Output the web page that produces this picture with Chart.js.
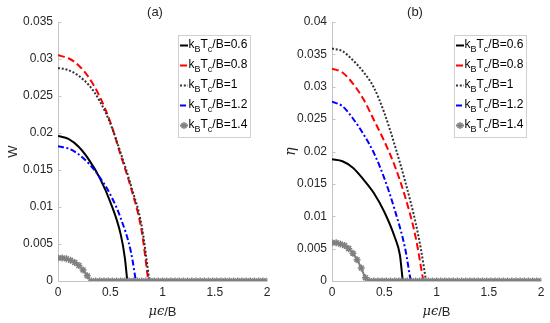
<!DOCTYPE html>
<html>
<head>
<meta charset="utf-8">
<script src="https://cdn.jsdelivr.net/npm/chart.js@4.4.1/dist/chart.umd.min.js"></script>
<style>
  body { margin: 0; background: #fff; width: 550px; height: 323px; overflow: hidden; }
  .painel { position: absolute; top: 0; width: 275px; height: 323px; }
</style>
</head>
<body>
<div class="painel" style="left:0"><canvas id="chartA"></canvas></div>
<div class="painel" style="left:275px"><canvas id="chartB"></canvas></div>
<script>
// valores
const temperaturas = ['0.6', '0.8', '1', '1.2', '1.4'];
const xTicks = [0, 0.5, 1, 1.5, 2];

// painel (a): W
const aX06 = [0, 0.1, 0.2, 0.3, 0.4, 0.5, 0.6, 0.64, 0.663];
const aW06 = [0.0196, 0.0192, 0.0181, 0.0163, 0.0139, 0.0107, 0.0063, 0.0031, 0];
const aX08 = [0, 0.1, 0.2, 0.3, 0.4, 0.5, 0.6, 0.7, 0.8, 0.864];
const aW08 = [0.0305, 0.0301, 0.0291, 0.0274, 0.0249, 0.0215, 0.0170, 0.0125, 0.0068, 0];
const aX10 = [0, 0.1, 0.2, 0.3, 0.4, 0.5, 0.6, 0.7, 0.8, 0.875];
const aW10 = [0.0288, 0.0285, 0.0277, 0.0264, 0.0243, 0.0213, 0.0173, 0.0128, 0.0075, 0];
const aX12 = [0, 0.1, 0.2, 0.3, 0.4, 0.5, 0.6, 0.7, 0.745];
const aW12 = [0.0182, 0.0179, 0.0171, 0.0158, 0.0140, 0.0117, 0.0085, 0.0038, 0];

// serie 1.4 (com marcadores)
const xCinza = [0, 0.04, 0.08, 0.12, 0.16, 0.2, 0.24, 0.28, 0.32, 0.36, 0.4, 0.44, 0.48, 0.52, 0.56, 0.6,
  0.64, 0.68, 0.72, 0.76, 0.8, 0.84, 0.88, 0.92, 0.96, 1, 1.04, 1.08, 1.12, 1.16, 1.2, 1.24, 1.28, 1.32,
  1.36, 1.4, 1.44, 1.48, 1.52, 1.56, 1.6, 1.64, 1.68, 1.72, 1.76, 1.8, 1.84, 1.88, 1.92, 1.96, 2];
const aW14 = [0.0031, 0.0031, 0.0030, 0.0028, 0.0025, 0.0021, 0.0015, 0.0007, 0, 0, 0, 0, 0, 0, 0, 0,
  0, 0, 0, 0, 0, 0, 0, 0, 0, 0, 0, 0, 0, 0, 0, 0, 0, 0,
  0, 0, 0, 0, 0, 0, 0, 0, 0, 0, 0, 0, 0, 0, 0, 0, 0];

// painel (b): eta
const bX06 = [0, 0.1, 0.2, 0.3, 0.4, 0.5, 0.6, 0.65, 0.677];
const bE06 = [0.0188, 0.0185, 0.0175, 0.0157, 0.0136, 0.0107, 0.0068, 0.0040, 0];
const bX08 = [0, 0.1, 0.2, 0.3, 0.4, 0.5, 0.6, 0.7, 0.8, 0.874];
const bE08 = [0.0328, 0.0322, 0.0305, 0.0281, 0.0249, 0.0216, 0.0178, 0.0130, 0.0068, 0];
const bX10 = [0, 0.1, 0.2, 0.3, 0.4, 0.5, 0.6, 0.7, 0.8, 0.85, 0.9];
const bE10 = [0.0359, 0.0355, 0.0341, 0.0323, 0.0299, 0.0260, 0.0210, 0.0154, 0.0090, 0.0050, 0];
const bX12 = [0, 0.1, 0.2, 0.3, 0.4, 0.5, 0.6, 0.7, 0.753];
const bE12 = [0.0277, 0.0270, 0.0251, 0.0227, 0.0198, 0.0159, 0.0110, 0.0050, 0];
const bE14 = [0.0059, 0.0059, 0.0057, 0.0055, 0.0050, 0.0043, 0.0033, 0.0020, 0.0005, 0, 0, 0, 0, 0, 0, 0,
  0, 0, 0, 0, 0, 0, 0, 0, 0, 0, 0, 0, 0, 0, 0, 0, 0, 0,
  0, 0, 0, 0, 0, 0, 0, 0, 0, 0, 0, 0, 0, 0, 0, 0, 0];

const cores = ['#000000', '#ff0000', '#333333', '#0000ff', '#808080'];
const tracos = [[], [7, 3.5], [2, 1.8], [6, 2.5, 2, 2.5], []];
const fonte = 'Liberation Sans, Arial, sans-serif';
const corTexto = '#262626';

function serie(xs, ys) {
    return xs.map((x, i) => ({ x: x, y: ys[i] }));
}

function estrela(ctx, x, y, r) {
    ctx.beginPath();
    for (let k = 0; k < 4; k++) {
        const ang = k * Math.PI / 4;
        ctx.moveTo(x - r * Math.cos(ang), y - r * Math.sin(ang));
        ctx.lineTo(x + r * Math.cos(ang), y + r * Math.sin(ang));
    }
    ctx.stroke();
}

const eixosPlugin = {
    id: 'eixos',
    beforeDatasetsDraw(chart, args, opts) {
        const { ctx, chartArea: a, scales } = chart;
        ctx.save();
        ctx.strokeStyle = '#c4c4c4';
        ctx.lineWidth = 1;
        ctx.beginPath();
        const l = Math.round(a.left) + 0.5, b = Math.round(a.bottom) + 0.5;
        ctx.moveTo(l, a.top);
        ctx.lineTo(l, b);
        ctx.lineTo(a.right, b);
        scales.y.ticks.forEach(t => {
            const y = Math.round(scales.y.getPixelForValue(t.value)) + 0.5;
            ctx.moveTo(l, y); ctx.lineTo(l + 3, y);
        });
        scales.x.ticks.forEach(t => {
            const x = Math.round(scales.x.getPixelForValue(t.value)) + 0.5;
            ctx.moveTo(x, b); ctx.lineTo(x, b - 3);
        });
        ctx.stroke();
        ctx.restore();
    },
    afterDraw(chart, args, opts) {
        const { ctx, chartArea: a } = chart;
        ctx.save();
        ctx.fillStyle = corTexto;
        ctx.textBaseline = 'middle';

        // titulo (a)/(b)
        ctx.font = '13px ' + fonte;
        ctx.textAlign = 'center';
        ctx.fillText(opts.titulo, opts.tituloX, 12.5);

        // eixo x: mu epsilon / B
        ctx.textAlign = 'left';
        const fGrego = 'italic 13px DejaVu Serif';
        ctx.font = fGrego;
        const w1 = ctx.measureText('\u03bc\u03f5').width;
        ctx.font = '13px ' + fonte;
        const w2 = ctx.measureText('/B').width;
        let x0 = (a.left + a.right) / 2 - (w1 + w2) / 2;
        ctx.font = fGrego;
        ctx.fillText('\u03bc\u03f5', x0, 312);
        ctx.font = '13px ' + fonte;
        ctx.fillText('/B', x0 + w1, 312);

        // eixo y
        ctx.save();
        ctx.translate(opts.rotuloYX, (a.top + a.bottom) / 2);
        ctx.rotate(-Math.PI / 2);
        ctx.textAlign = 'center';
        ctx.font = opts.rotuloYItalico ? 'italic 14px DejaVu Serif' : '13px ' + fonte;
        ctx.fillText(opts.rotuloY, 0, 0);
        ctx.restore();

        // legenda
        const lx = opts.legendaX, ly = 35, lw = 72, lh = 102;
        ctx.fillStyle = '#ffffff';
        ctx.fillRect(lx, ly, lw, lh);
        ctx.strokeStyle = '#d0d0d0';
        ctx.lineWidth = 1;
        ctx.strokeRect(lx + 0.5, ly + 0.5, lw, lh);
        chart.data.datasets.forEach((ds, i) => {
            const y = ly + 10.5 + i * 20;
            ctx.strokeStyle = ds.borderColor;
            ctx.lineWidth = ds.borderWidth;
            ctx.setLineDash(ds.borderDash);
            ctx.beginPath();
            ctx.moveTo(lx + 2, y);
            ctx.lineTo(lx + 10, y);
            ctx.stroke();
            ctx.setLineDash([]);
            if (ds.pointRadius > 0) {
                ctx.lineWidth = 1.4;
                estrela(ctx, lx + 6, y, 3.5);
            }
            const partes = [['k', 0], ['B', 1], ['T', 0], ['c', 1], ['/B=' + temperaturas[i], 0]];
            let x = lx + 10.5;
            ctx.fillStyle = '#000000';
            ctx.textAlign = 'left';
            partes.forEach(([t, sub]) => {
                ctx.font = (sub ? '9px ' : '12px ') + fonte;
                ctx.fillText(t, x, sub ? y + 4 : y - 1);
                x += ctx.measureText(t).width;
            });
        });
        ctx.restore();
    }
};

function criarGrafico(ctx, painel) {
    const dados = painel.series.map((s, i) => ({
        label: temperaturas[i],
        data: serie(s[0], s[1]),
        borderColor: cores[i],
        backgroundColor: cores[i],
        borderWidth: 2,
        borderDash: tracos[i],
        borderCapStyle: 'butt',
        pointRadius: i === 4 ? 3.5 : 0,
        pointStyle: 'star',
        pointBorderWidth: 1.5,
        cubicInterpolationMode: 'monotone',
        order: 5 - i,
        fill: false
    }));
    return new Chart(ctx, {
        type: 'line',
        data: { datasets: dados },
        options: {
            responsive: true,
            maintainAspectRatio: false,
            animation: false,
            events: [],
            layout: { padding: { left: 0, right: painel.dir, top: 22, bottom: 0 } },
            plugins: {
                legend: { display: false },
                tooltip: { enabled: false },
                eixos: painel.eixos
            },
            scales: {
                x: {
                    type: 'linear',
                    min: 0,
                    max: 2,
                    afterBuildTicks: s => { s.ticks = xTicks.map(v => ({ value: v })); },
                    ticks: {
                        color: corTexto,
                        font: { family: fonte, size: 12 },
                        padding: 4,
                        maxRotation: 0,
                        callback: v => String(v)
                    },
                    grid: { display: false, drawTicks: false },
                    border: { display: false },
                    afterFit: s => { s.height = 42; }
                },
                y: {
                    type: 'linear',
                    min: 0,
                    max: painel.yMax,
                    afterBuildTicks: s => { s.ticks = painel.yTicks.map(v => ({ value: v })); },
                    ticks: {
                        color: corTexto,
                        font: { family: fonte, size: 12 },
                        padding: 5,
                        callback: v => String(+v.toFixed(3))
                    },
                    grid: { display: false, drawTicks: false },
                    border: { display: false },
                    afterFit: s => { s.width = painel.esq; }
                }
            }
        },
        plugins: [eixosPlugin]
    });
}

const yTicksA = [0, 0.005, 0.01, 0.015, 0.02, 0.025, 0.03, 0.035];
const yTicksB = [0, 0.005, 0.01, 0.015, 0.02, 0.025, 0.03, 0.035, 0.04];

const graficoA = criarGrafico(document.getElementById('chartA'), {
    series: [[aX06, aW06], [aX08, aW08], [aX10, aW10], [aX12, aW12], [xCinza, aW14]],
    yMax: 0.035, yTicks: yTicksA, esq: 58, dir: 8,
    eixos: { titulo: '(a)', tituloX: 155, rotuloY: 'W', rotuloYItalico: false, rotuloYX: 13, legendaX: 178 }
});
const graficoB = criarGrafico(document.getElementById('chartB'), {
    series: [[bX06, bE06], [bX08, bE08], [bX10, bE10], [bX12, bE12], [xCinza, bE14]],
    yMax: 0.04, yTicks: yTicksB, esq: 57, dir: 9,
    eixos: { titulo: '(b)', tituloX: 140, rotuloY: '\u03b7', rotuloYItalico: true, rotuloYX: 16, legendaX: 179 }
});
</script>
</body>
</html>
